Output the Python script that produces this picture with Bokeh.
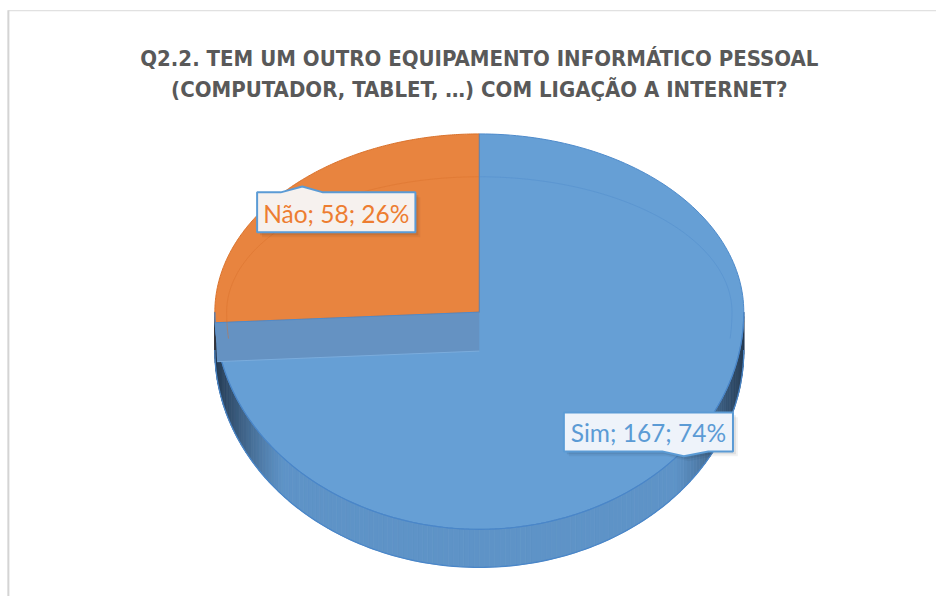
import numpy as np
from bokeh.plotting import figure
from bokeh.models import Range1d
from bokeh.embed import file_html
from bokeh.resources import INLINE
from bokeh.core.properties import value

# ---------------- data ----------------
title_lines = ["Q2.2. TEM UM OUTRO EQUIPAMENTO INFORMÁTICO PESSOAL",
               "(COMPUTADOR, TABLET, …) COM LIGAÇÃO A INTERNET?"]
categories = ["Sim", "Não"]
counts = [167, 58]
slice_colors = ["#669fd5", "#e8843f"]
edge_colors = ["#4f8bcb", "#d9722c"]
label_text_colors = ["#5b9bd5", "#ed7d31"]
label_fill = ["#eef3fa", "#f6f1ee"]

# ---------------- layout (reference-space coordinates) ----------------
W, H = 936, 596
RW, RH = 952, 612
CX, CY = 487, 320
RX, RYB, RYF = 269, 183, 223
DEPTH = 39
label_layout = [
    dict(cx=659, cy=443, w=172, h=40, side=1, bx=(673, 695, 720)),
    dict(cx=341.5, cy=217.5, w=161, h=41, side=-1, bx=(285, 307, 328)),
]


def face(phi, rx=RX, ryb=RYB, ryf=RYF):
    phi = np.asarray(phi, float)
    c = -np.cos(phi)
    x = CX + rx * np.sin(phi)
    y = CY + np.where(c > 0, ryf, ryb) * c
    return x, y


def mix(c1, c2, t):
    a = np.array([int(c1[i:i + 2], 16) for i in (1, 3, 5)], float)
    b = np.array([int(c2[i:i + 2], 16) for i in (1, 3, 5)], float)
    m = a + (b - a) * t
    return "#%02x%02x%02x" % tuple(int(round(v)) for v in m)


total = sum(counts)
fracs = [c / total for c in counts]
bounds = [0.0]
for f in fracs:
    bounds.append(bounds[-1] + 2 * np.pi * f)

p = figure(width=W, height=H, x_range=Range1d(0, RW), y_range=Range1d(RH, 0),
           output_backend="svg", toolbar_location=None, min_border=0,
           x_axis_location=None, y_axis_location=None)
p.grid.visible = False
p.outline_line_color = None
p.background_fill_color = "white"
p.border_fill_color = "white"

# chart-area border (top and left visible)
p.line([8, RW], [10.5, 10.5], line_color="#d9d9d9", line_width=1)
p.line([8, 8], [10, RH], line_color="#d4d4d4", line_width=2)

# ---------------- side wall ----------------
N = 160
ph = np.linspace(np.pi / 2, 3 * np.pi / 2, N + 1)
wx, wy, wc = [], [], []
for i in range(N):
    a, b = ph[i], ph[i + 1]
    xa, ya = face(a)
    xb, yb = face(b)
    mid = 0.5 * (a + b)
    k = 0 if mid < bounds[1] else 1
    base = "#5e93c7" if k == 0 else "#c86a2a"
    t = abs(np.sin(mid))
    f = np.clip((t - 0.74) / 0.26, 0, 1) ** 1.2 * 0.85
    col = mix(base, "#1a2a3d", f)
    wx.append([xa, xb, xb, xa])
    wy.append([ya, yb, yb + DEPTH, ya + DEPTH])
    wc.append(col)
p.patches(wx, wy, fill_color=wc, line_color=wc, line_width=0.8)
fx, fy = face(ph)
p.line(fx, fy + DEPTH, line_color="#4a86c8", line_width=1.3)

# ---------------- top face slices ----------------
for k, cat in enumerate(categories):
    phs = np.linspace(bounds[k], bounds[k + 1], 200)
    x, y = face(phs)
    xs = np.concatenate([[CX], x])
    ys = np.concatenate([[CY], y])
    p.patch(xs, ys, fill_color=slice_colors[k], line_color=edge_colors[k], line_width=1)

# front edge of the top face
p.line(fx, fy, line_color="#4a86c8", line_width=1.2)

# cut band under the back slice
xa, ya = face(bounds[1])
xa, ya = float(xa), float(ya)
p.patch([CX, xa, xa + 2, CX], [CY, ya, ya + DEPTH + 1, CY + DEPTH + 1],
        fill_color="#6592c2", line_color=None)
p.line([xa + 2, CX], [ya + DEPTH + 1, CY + DEPTH + 1], line_color="#7bacdc", line_width=1)
p.line([xa, CX], [ya, CY], line_color="#4f8bcb", line_width=1)

# faint inner bevel line
bevel = [np.linspace(0, np.deg2rad(97), 80), np.linspace(np.deg2rad(263), 2 * np.pi, 80)]
for k in range(len(categories)):
    ix, iy = face(bevel[k], rx=RX - 12, ryb=RYB - 44)
    p.line(ix, iy, line_color=edge_colors[k], line_alpha=0.45, line_width=1)

# divider at 12 o'clock
tx, ty = face(0.0)
p.line([CX, float(tx)], [CY, float(ty)], line_color="#4f8bcb", line_width=1)

# ---------------- labels ----------------
for k, cat in enumerate(categories):
    L = label_layout[k]
    l, r = L["cx"] - L["w"] / 2, L["cx"] + L["w"] / 2
    t, b = L["cy"] - L["h"] / 2, L["cy"] + L["h"] / 2
    b1, b2, b3 = L["bx"]
    if L["side"] < 0:
        px = [l, b1, b2, b3, r, r, l]
        py = [t, t, t - 6, t, t, b, b]
    else:
        px = [l, r, r, b3, b2, b1, l]
        py = [t, t, b, b, b + 5, b, b]
    for off, alpha in ((5, 0.05), (3, 0.08)):
        p.patch([v + off for v in px], [v + off for v in py], fill_color="#000000",
                fill_alpha=alpha, line_color=None)
    p.patch(px, py, fill_color=label_fill[k], line_color="#5b9bd5", line_width=2)
    txt = f"{cat}; {counts[k]}; {round(100 * counts[k] / total)}%"
    p.text(x=[L["cx"]], y=[L["cy"] + 1], text=[txt], text_font=value("Lato"),
           text_font_size="24.5px", text_color=label_text_colors[k],
           text_align="center", text_baseline="middle")

# ---------------- title ----------------
p.text(x=[CX, CX], y=[59.5, 91.5], text=title_lines, text_font=value("DejaVu Sans Condensed"),
       text_font_style="bold", text_font_size="22px", text_color="#595959",
       text_align="center", text_baseline="alphabetic")

open("out.html", "w").write(file_html(p, INLINE))
